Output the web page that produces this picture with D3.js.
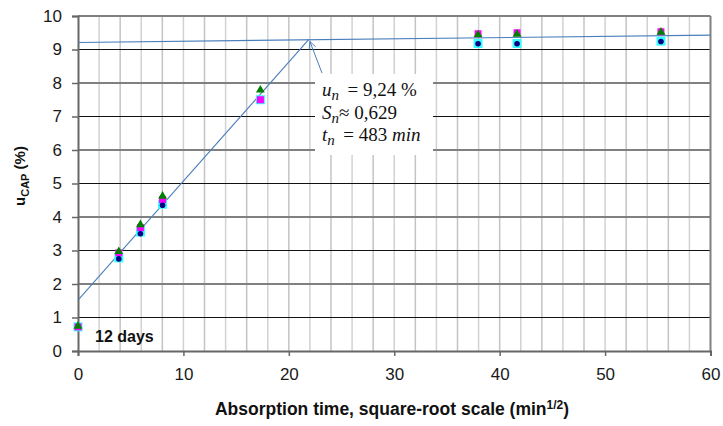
<!DOCTYPE html>
<html><head><meta charset="utf-8">
<script src="https://cdn.jsdelivr.net/npm/d3@7"></script>
<style>body{margin:0;background:#fff}svg{display:block}</style>
</head><body><svg id="c" width="723" height="426"></svg>
<script>
const xValues = [0, 3.87, 5.92, 8.02, 17.3, 37.95, 41.65, 55.3];
const magentaSeries = [0.72, 2.93, 3.68, 4.52, 7.5, 9.47, 9.5, 9.53];
const greenSeries = [0.74, 2.97, 3.77, 4.62, 7.79, 9.44, 9.46, 9.52];
const cyanSeries = [0.72, 2.78, 3.55, 4.38, 7.5, 9.18, 9.18, 9.25];
const navySeries = [null, 2.75, 3.5, 4.35, null, 9.17, 9.17, 9.24];
const fitRising = [[0, 1.52], [21.9, 9.3]];
const fitPlateau = [[0, 9.21], [60, 9.43]];
const xTicks = [0, 10, 20, 30, 40, 50, 60];
const yTicks = [0, 1, 2, 3, 4, 5, 6, 7, 8, 9, 10];

const svg = d3.select("#c");
const x = d3.scaleLinear().domain([0, 60]).range([78, 710.5]);
const y = d3.scaleLinear().domain([0, 10]).range([351, 16]);
const sans = "Arial, 'Liberation Sans', sans-serif";

const g = svg.append("g");
d3.range(2, 60, 2).forEach((v, i) => {
  g.append("line").attr("x1", x(v)).attr("x2", x(v)).attr("y1", y(0)).attr("y2", y(10))
    .attr("stroke", i % 2 ? "#c4c4c4" : "#d2d2d2").attr("stroke-width", 1.5);
});
yTicks.slice(1).forEach(v => {
  g.append("line").attr("x1", x(0)).attr("x2", x(60)).attr("y1", y(v)).attr("y2", y(v))
    .attr("stroke", v % 2 ? "#111" : "#808080").attr("stroke-width", v % 2 ? 1.2 : 2);
});
g.append("line").attr("x1", x(60)).attr("x2", x(60)).attr("y1", y(0)).attr("y2", y(10))
  .attr("stroke", "#808080").attr("stroke-width", 2);

const yAxis = svg.append("g").attr("transform", `translate(${x(0)},0)`)
  .call(d3.axisLeft(y).tickValues(yTicks).tickSize(6).tickPadding(10));
const xAxis = svg.append("g").attr("transform", `translate(0,${y(0)})`)
  .call(d3.axisBottom(x).tickValues(xTicks).tickSize(5).tickPadding(12));
[yAxis, xAxis].forEach(a => {
  a.select(".domain").attr("stroke", "#666").attr("stroke-width", 2);
  a.selectAll(".tick line").attr("stroke", "#666").attr("stroke-width", 1.5);
  a.selectAll(".tick text").attr("font-family", sans)
    .attr("font-size", 17).attr("fill", "#1a1a1a");
});

const line = d3.line().x(d => x(d[0])).y(d => y(d[1]));
[fitRising, fitPlateau].forEach(d => {
  svg.append("path").attr("d", line(d)).attr("fill", "none")
    .attr("stroke", "#4a7ebb").attr("stroke-width", 1.1);
});

const pts = (arr) => xValues.map((v, i) => [v, arr[i]]).filter(d => d[1] != null);
svg.append("g").selectAll("rect").data(pts(cyanSeries)).join("rect")
  .attr("x", d => x(d[0]) - 4.5).attr("y", d => y(d[1]) - 4.5).attr("width", 9).attr("height", 9)
  .attr("fill", "#33ffff");
svg.append("g").selectAll("rect").data(pts(magentaSeries)).join("rect")
  .attr("x", d => x(d[0]) - 3.5).attr("y", d => y(d[1]) - 3.5).attr("width", 7).attr("height", 7)
  .attr("fill", "#ff00ff");
svg.append("g").selectAll("path").data(pts(greenSeries)).join("path")
  .attr("d", d3.symbol(d3.symbolTriangle, 34))
  .attr("transform", d => `translate(${x(d[0])},${y(d[1])})`)
  .attr("fill", "#008000");
svg.append("g").selectAll("circle").data(pts(navySeries)).join("circle")
  .attr("cx", d => x(d[0])).attr("cy", d => y(d[1])).attr("r", 2.8)
  .attr("fill", "#000080");

svg.append("rect").attr("x", 315).attr("y", 74).attr("width", 118).attr("height", 81).attr("fill", "#fff");
const ax = x(21.9), ay = y(9.3);
svg.append("line").attr("x1", 322).attr("y1", 73).attr("x2", ax + 1).attr("y2", ay + 2)
  .attr("stroke", "#4a7ebb").attr("stroke-width", 1);
const ang = Math.atan2(73 - ay, 322 - ax);
[0.45, -0.45].forEach(da => {
  svg.append("line").attr("x1", ax + 1).attr("y1", ay + 2)
    .attr("x2", ax + 1 + 8 * Math.cos(ang + da)).attr("y2", ay + 2 + 8 * Math.sin(ang + da))
    .attr("stroke", "#4a7ebb").attr("stroke-width", 1);
});
const serif = "'Liberation Serif', 'DejaVu Serif', serif";
function mathLine(yy, sym, sub, rest) {
  const t = svg.append("text").attr("x", 322).attr("y", yy).attr("font-family", serif)
    .attr("font-size", 19).attr("fill", "#111").attr("xml:space", "preserve");
  t.append("tspan").attr("font-style", "italic").text(sym);
  t.append("tspan").attr("font-style", "italic").attr("font-size", 15).attr("dy", 4).text(sub);
  let first = true;
  rest.forEach(p => {
    const s = t.append("tspan").attr("font-style", p[1] ? "italic" : "normal").text(p[0]);
    if (first) { s.attr("dy", -4); first = false; }
  });
  return t;
}
mathLine(96, "u", "n", [["\u2009 = 9,24 %", false]]);
mathLine(119, "S", "n", [["≈ 0,629", false]]);
mathLine(141, "t", "n", [["\u2009 = 483 ", false], ["min", true]]);

svg.append("text").attr("x", 95).attr("y", 341.5).attr("font-family", sans)
  .attr("font-size", 16).attr("font-weight", "bold").attr("fill", "#111").text("12 days");

const xt = svg.append("text").attr("x", 392).attr("y", 415).attr("text-anchor", "middle")
  .attr("font-family", sans).attr("font-size", 17.5)
  .attr("font-weight", "bold").attr("fill", "#111");
xt.append("tspan").text("Absorption time, square-root scale (min");
xt.append("tspan").attr("font-size", 12).attr("dy", -6).text("1/2");
xt.append("tspan").attr("dy", 6).text(")");

const yt = svg.append("text").attr("transform", "translate(25,176) rotate(-90)").attr("text-anchor", "middle")
  .attr("font-family", sans).attr("font-size", 15)
  .attr("font-weight", "bold").attr("fill", "#111");
yt.append("tspan").text("u");
yt.append("tspan").attr("font-size", 11).attr("dy", 4).text("CAP");
yt.append("tspan").attr("dy", -4).text(" (%)");
</script></body></html>
